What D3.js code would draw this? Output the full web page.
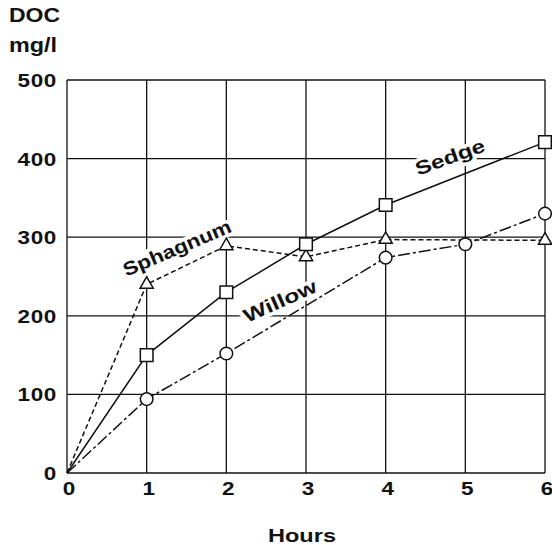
<!DOCTYPE html>
<html>
<head>
<meta charset="utf-8">
<script src="https://cdn.jsdelivr.net/npm/d3@7"></script>
<style>
  body { margin: 0; background: #fff; }
  svg { display: block; font-family: "Liberation Sans", Arial, Helvetica, sans-serif; font-weight: bold; }
</style>
</head>
<body>
<svg id="chart" width="552" height="545"></svg>
<script>
// hours along the x axis
var hours = [0, 1, 2, 3, 4, 5, 6];
var yTicks = [0, 100, 200, 300, 400, 500];

// DOC mg/l, null = no measurement plotted
var sedge    = [0, 150, 230, 291, 341, null, 421];
var sphagnum = [0, 240, 289, 275, 297, null, 296];
var willow   = [0, 94, 152, null, 274, 291, 330];

(function (d3) {
  'use strict';
  var svg = d3.select('#chart');
  var x = d3.scaleLinear().domain([0, 6]).range([67, 545]);
  var y = d3.scaleLinear().domain([0, 500]).range([473, 80]);

  // the original lettering is a wide grotesque, so stretch text horizontally
  var wide = function (tx, ty, rot, k) {
    return 'translate(' + tx + ',' + ty + ') rotate(' + (rot || 0) + ') scale(' + k + ',1)';
  };

  /** grid */
  var grid = svg.append('g').attr('stroke', '#111').attr('stroke-width', 1.3);
  grid.selectAll('.vgrid').data(hours).enter().append('line')
    .attr('x1', function (d) { return x(d); }).attr('x2', function (d) { return x(d); })
    .attr('y1', y(0)).attr('y2', y(500));
  grid.selectAll('.hgrid').data(yTicks).enter().append('line')
    .attr('y1', function (d) { return y(d); }).attr('y2', function (d) { return y(d); })
    .attr('x1', x(0)).attr('x2', x(6));

  /** tick labels */
  var yAxis = d3.axisLeft(y).tickValues(yTicks).tickSize(0);
  var gy = svg.append('g').attr('transform', 'translate(' + x(0) + ',0)').call(yAxis);
  gy.select('.domain').remove();
  gy.selectAll('text').attr('font-size', 18).attr('font-family', null).attr('fill', '#111')
    .attr('x', null).attr('dy', '0.36em').attr('letter-spacing', 0.5)
    .attr('transform', wide(-10, 0, 0, 1.25));

  var xAxis = d3.axisBottom(x).tickValues(hours).tickFormat(d3.format('d')).tickSize(0);
  var gx = svg.append('g').attr('transform', 'translate(0,' + y(0) + ')').call(xAxis);
  gx.select('.domain').remove();
  gx.selectAll('text').attr('font-size', 18).attr('font-family', null).attr('fill', '#111')
    .attr('y', null).attr('transform', wide(1.5, 9, 0, 1.25));

  /** titles */
  svg.append('text').attr('transform', wide(9, 22, 0, 1.15)).attr('font-size', 20)
    .attr('fill', '#111').text('DOC');
  svg.append('text').attr('transform', wide(9, 52, 0, 1.17)).attr('font-size', 20)
    .attr('fill', '#111').text('mg/l');
  svg.append('text').attr('transform', wide(302, 542, 0, 1.24)).attr('font-size', 19)
    .attr('text-anchor', 'middle').attr('fill', '#111').text('Hours');

  /** curve labels, white halo breaks the grid like the original */
  var labels = [
    { text: 'Sphagnum', cx: 177, cy: 248, angle: -23, stretch: 1.18 },
    { text: 'Sedge', cx: 450, cy: 157, angle: -20, stretch: 1.28 },
    { text: 'Willow', cx: 280, cy: 301, angle: -24, stretch: 1.3 }
  ];
  svg.selectAll('.curve-label').data(labels).enter().append('text')
    .attr('class', 'curve-label')
    .attr('transform', function (d) { return wide(d.cx, d.cy, d.angle, d.stretch); })
    .attr('text-anchor', 'middle').attr('font-size', 19)
    .attr('fill', '#111').attr('stroke', '#fff').attr('stroke-width', 7)
    .attr('paint-order', 'stroke').attr('dy', '0.35em')
    .text(function (d) { return d.text; });

  /** series */
  var series = [
    { values: sphagnum, dash: '5,3', marker: 'triangle' },
    { values: willow, dash: '12,3,3,3', marker: 'circle' },
    { values: sedge, dash: null, marker: 'square' }
  ];

  var line = d3.line().x(function (d) { return x(d.h); }).y(function (d) { return y(d.v); });

  series.forEach(function (s) {
    var pts = hours.map(function (h, i) { return { h: h, v: s.values[i] }; })
      .filter(function (p) { return p.v !== null; });
    svg.append('path').datum(pts).attr('d', line)
      .attr('fill', 'none').attr('stroke', '#111').attr('stroke-width', 1.5)
      .attr('stroke-dasharray', s.dash);

    var symType = s.marker === 'triangle' ? d3.symbolTriangle : (s.marker === 'circle' ? d3.symbolCircle : d3.symbolSquare);
    var symSize = s.marker === 'triangle' ? 75 : (s.marker === 'circle' ? 125 : 160);
    svg.selectAll(null).data(pts.filter(function (p) { return p.h > 0; })).enter().append('path')
      .attr('d', d3.symbol().type(symType).size(symSize))
      .attr('transform', function (d) { return 'translate(' + x(d.h) + ',' + y(d.v) + ')'; })
      .attr('fill', '#fff').attr('stroke', '#111').attr('stroke-width', 1.5);
  });
})(d3);
</script>
</body>
</html>
